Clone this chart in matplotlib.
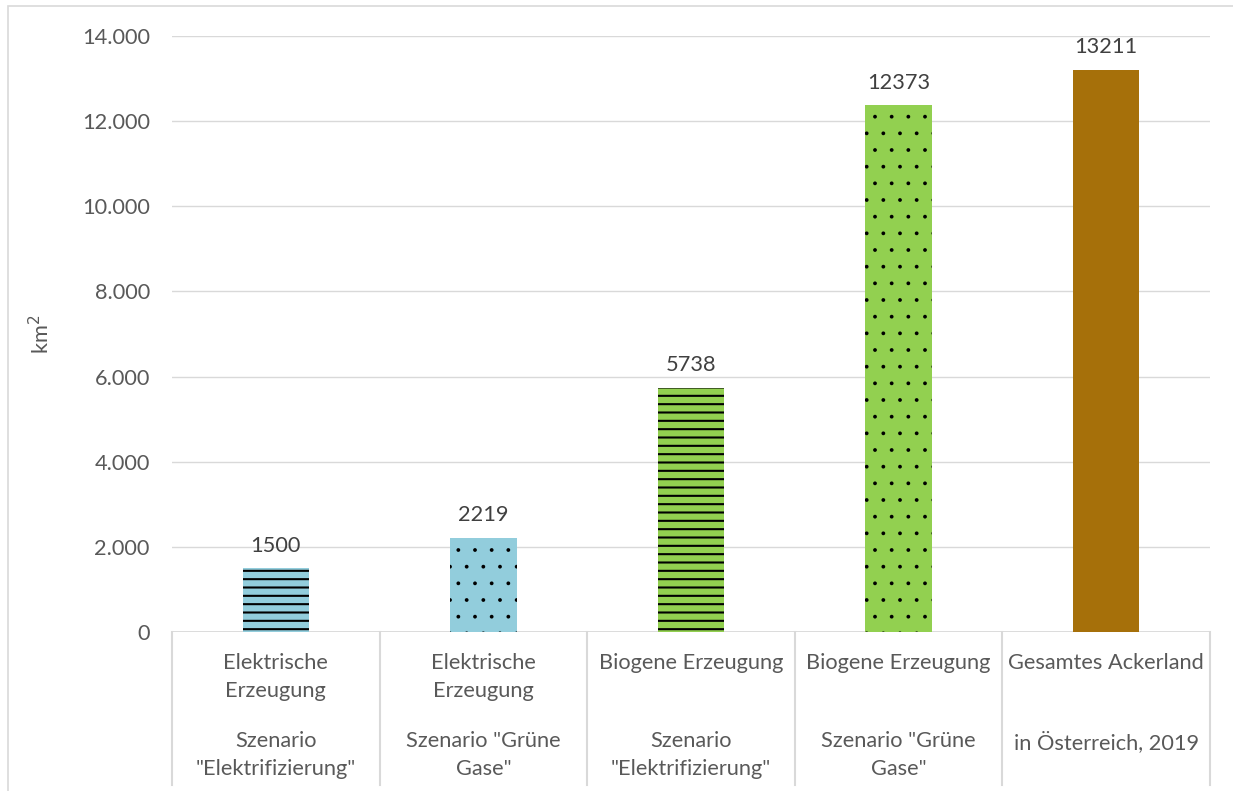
import matplotlib
matplotlib.use('Agg')
import matplotlib.pyplot as plt
import matplotlib.hatch
from matplotlib.patches import Rectangle

# data
top_labels = ['Elektrische\nErzeugung', 'Elektrische\nErzeugung', 'Biogene Erzeugung',
              'Biogene Erzeugung', 'Gesamtes Ackerland']
bottom_labels = ['Szenario\n"Elektrifizierung"', 'Szenario "Grüne\nGase"', 'Szenario\n"Elektrifizierung"',
                 'Szenario "Grüne\nGase"', 'in Österreich, 2019']
values = [1500, 2219, 5738, 12373, 13211]
colors = ['#92CDDC', '#92CDDC', '#92D050', '#92D050', '#A6700A']
hatches = ['--', '.', '--', '.', '']
yticks = [0, 2000, 4000, 6000, 8000, 10000, 12000, 14000]

plt.rcParams['font.family'] = ['Lato', 'DejaVu Sans']
plt.rcParams['hatch.linewidth'] = 1.5
plt.rcParams['hatch.color'] = 'black'
matplotlib.hatch.SmallFilledCircles.size = 0.05  # small dots like the excel pattern
txt = '#595959'
grid = '#D9D9D9'
fs = 15.7

fig = plt.figure(figsize=(12.33, 7.91), dpi=100)
ax = fig.add_axes([172 / 1233, 1 - 632 / 791, 1038 / 1233, 596 / 791])

x = list(range(len(values)))
for i, v in enumerate(values):
    ax.bar(i, v, width=0.32, color=colors[i], hatch=hatches[i] or None,
           edgecolor='black', linewidth=0, zorder=3)
    ax.annotate(str(v), (i, v), xytext=(0, 9), textcoords='offset points',
                ha='center', va='bottom', fontsize=fs, color='#404040')

ax.set_xlim(-0.5, len(values) - 0.5)
ax.set_ylim(0, 14000)
ax.set_yticks(yticks)
ax.set_yticklabels([f'{t:,}'.replace(',', '.') for t in yticks], fontsize=fs, color=txt)
ax.tick_params(axis='y', length=0, pad=16)
ax.set_xticks([])
ax.yaxis.grid(True, color=grid, linewidth=1.0, zorder=0)
for s in ax.spines.values():
    s.set_visible(False)
ax.axhline(0, color=grid, linewidth=2, zorder=2)

ax.set_ylabel('km$^{2}$', fontsize=fs, color=txt)
ax.yaxis.set_label_coords(-0.114, 0.5)

# two-level category axis
tr = ax.get_xaxis_transform()
sep_bottom = -(785 - 632) / 596
for b in [i - 0.5 for i in range(len(values) + 1)]:
    ax.plot([b, b], [0, sep_bottom], transform=tr, color=grid, linewidth=1.5, clip_on=False)
for i in x:
    ax.text(i, -(653 - 632) / 596, top_labels[i], transform=tr, ha='center', va='top',
            fontsize=fs, color=txt, linespacing=1.5)
    ax.text(i, -(731 - 632) / 596, bottom_labels[i], transform=tr, ha='center', va='top',
            fontsize=fs, color=txt, linespacing=1.5)

# chart border
fig.patches.append(Rectangle((8 / 1233, -0.1), 1.1, 1.1 - 6 / 791, transform=fig.transFigure,
                             fill=False, edgecolor=grid, linewidth=1.2))

fig.savefig('out.png', dpi=100)
